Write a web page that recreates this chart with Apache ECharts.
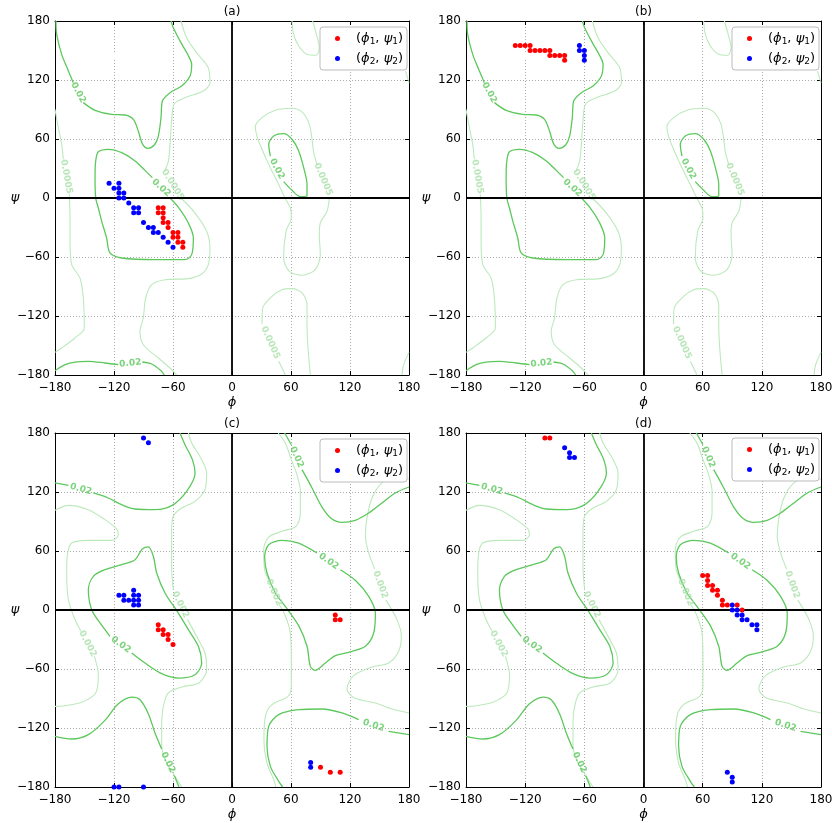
<!DOCTYPE html>
<html><head><meta charset="utf-8">
<script src="https://cdn.jsdelivr.net/npm/echarts@6/dist/echarts.min.js"></script>
<style>html,body{margin:0;padding:0;background:#fff}#c{width:832px;height:823px}</style>
</head><body><div id="c"></div>
<script>
// ---------------- data ----------------
const PANEL_TITLES = ['(a)', '(b)', '(c)', '(d)'];
const AXIS_TICKS = [-180, -120, -60, 0, 60, 120, 180];
const SERIES_NAMES = ['p1', 'p2'];

const A_RED = [[-75,-10],[-70,-10],[-75,-15],[-70,-15],[-70,-20],[-70,-25],[-65,-25],[-65,-30],[-60,-35],[-55,-35],[-60,-40],[-55,-40],[-55,-45],[-50,-45],[-50,-50]];
const A_BLUE = [[-125,15],[-115,15],[-120,10],[-115,10],[-115,5],[-110,5],[-115,0],[-110,0],[-105,-5],[-100,-10],[-95,-10],[-100,-15],[-95,-15],[-90,-25],[-85,-30],[-80,-30],[-80,-35],[-75,-35],[-70,-40],[-65,-45],[-60,-50]];
const B_RED = [[-130,155],[-125,155],[-120,155],[-115,155],[-115,150],[-110,150],[-105,150],[-100,150],[-95,150],[-95,145],[-90,145],[-85,145],[-80,145],[-80,140]];
const B_BLUE = [[-65,155],[-65,150],[-60,150],[-60,145],[-60,140]];
const C_RED = [[-75,-15],[-75,-20],[-70,-20],[-70,-25],[-65,-25],[-65,-30],[-60,-35],[105,-5],[105,-10],[110,-10],[90,-160],[100,-165],[110,-165]];
const C_BLUE = [[-90,175],[-85,170],[-100,20],[-115,15],[-110,15],[-100,15],[-95,15],[-110,10],[-105,10],[-100,10],[-95,10],[-100,5],[-95,5],[80,-155],[80,-160],[-120,-180],[-115,-180],[-90,-180]];
const D_RED = [[-100,175],[-95,175],[60,35],[65,35],[65,30],[65,25],[70,25],[70,20],[75,20],[75,15],[80,10],[80,5],[85,5],[95,5],[100,0]];
const D_BLUE = [[-80,165],[-75,160],[-75,155],[-70,155],[90,5],[90,0],[95,0],[95,-5],[100,-5],[100,-10],[105,-10],[110,-15],[115,-15],[115,-20],[85,-165],[90,-170],[90,-175]];

// contour map used in (a),(b): levels 0.02 (dark) and 0.0005 (light)
const M1_DARK = [
  [[-179,180],[-178.3,166.4],[-173.2,146.1],[-166.4,129.2],[-161.4,117.3]],
  [[-151.2,97],[-139.3,89.2],[-122.4,85.1],[-108.8,84.4],[-100.3,80],[-95.3,68.1],[-91.2,55.3],[-85.8,50.5],[-79,53.9],[-74.9,63],[-72.2,81.7],[-70.8,98.6],[-63,107.1],[-51.2,113.9],[-42.7,124.1],[-41,135.9],[-45.1,146.1],[-51.9,158],[-59.7,173.2],[-62,180]],
  [[-180,-175.6],[-169.8,-169.5],[-159.7,-166.8],[-146.1,-166.1],[-129.2,-167.8],[-115.6,-169.5]],
  [[-91.2,-166.8],[-81.7,-168.8],[-72.2,-175.6],[-68.8,-180]],
  [[-63,0],[-53.9,-10.2],[-44.4,-25.4],[-39.3,-40.7],[-41,-57.6],[-47.8,-62.7],[-78.3,-62.7],[-112.2,-61],[-124.1,-55.9],[-127.5,-40.7],[-132.5,-23.7],[-135.9,-10.2],[-138.6,0],[-139.3,20.7],[-138.6,37.6],[-135.9,47.1],[-125.8,49.5],[-112.2,46.1],[-98.6,37.6],[-88.5,28.1],[-81,20.7]],
  [[39,42.7],[37.3,54.6],[42.4,63],[52.5,65.4],[61,59.7],[67.8,47.8],[72.9,30.8],[76.3,13.9],[76.3,2],[69.5,1.4],[61,7.8],[52.5,16.6]]
];
const M1_LIGHT = [
  [[-51.9,180],[-46.1,163],[-36,147.8],[-24.1,132.5],[-22.4,117.3],[-29.2,108.8],[-46.1,102.7],[-58.6,95.9],[-61.4,78.3],[-63,54.6],[-64.7,37.6],[-68.8,26.8]],
  [[-51.9,0],[-37.6,-15.3],[-25.8,-33.9],[-22.4,-50.8],[-24.1,-67.8],[-30.8,-77.3],[-44.4,-82],[-68.1,-83.1],[-81.7,-88.1],[-87.8,-101.7],[-90.2,-122],[-93.6,-135.6],[-90.2,-149.2],[-74.9,-162.7],[-63,-172.9],[-56.3,-180]],
  [[-180,90.2],[-176.6,71.5],[-173.2,54.6],[-171.5,39.3]],
  [[-165.5,4],[-164.7,-20.3],[-164.7,-44.1],[-163,-67.8],[-154.6,-81.4],[-151.2,-101.7],[-150.2,-132.2],[-159.7,-142.4],[-173.2,-152.5],[-180,-157]],
  [[176.5,129],[180,117]],
  [[180,-157],[174.6,-169.5],[172.9,-180]],
  [[61,180],[62.7,166.4],[67.8,154.6],[76.3,146.1],[85.4,145.1],[88.8,152.9],[85.4,168.1],[82,180]],
  [[54.2,-180],[47.5,-166.1]],
  [[30.5,-128.1],[31.2,-111.9],[40.7,-100],[50.8,-93.2],[61,-92.2],[71.2,-96.6],[76.3,-108.5],[76.3,-128.8],[77.3,-152.5],[79.7,-180]],
  [[86.4,34.2],[83.1,46.1],[81.4,59.7],[78.6,74.9],[71.9,86.8],[61,91.2],[44.1,89.2],[30.5,81.7],[23.7,72.2],[25.4,63],[30.5,49.5],[37.3,34.2],[45.8,17.3],[54,0],[59.3,-10.2],[60.3,-20.3],[54.9,-33.9],[52.5,-61],[58.3,-74.6],[71.2,-78.6],[84.7,-72.9],[89.8,-57.6],[88.8,-37.3],[89.8,-25.4],[96.6,-13.6],[99,0]]
];
const M1_LABEL_TEXT = ['0.02', '0.02', '0.02', '0.02', '0.0005', '0.0005', '0.0005', '0.0005'];
const M1_LABEL_LEVEL = ['dark', 'dark', 'dark', 'dark', 'light', 'light', 'light', 'light'];
const M1_LABEL_AT = [[-156.3,107.2],[-103.4,-168],[-72,10.3],[45.7,29.6],[-60.3,13.4],[-168.5,21.6],[92.7,19],[39,-147]];
const M1_LABEL_ANGLE = [-62, 6, -42, -62, -58, -80, -67, -66];
const M1_MARKS = [[-120,144.5],[74,166.5]];

// contour map used in (c),(d): levels 0.02 (dark) and 0.002 (light)
const M2_DARK = [
  [[-180,129.2],[-166.4,126.8]],
  [[-141,119],[-125.8,113.9],[-112.2,107.1],[-98.6,102.7],[-78.3,102],[-61.4,106.1],[-46.1,120.7],[-37.6,139.3],[-40.3,152.9],[-47.8,168.1],[-52.9,180]],
  [[-102,-43.7],[-88.5,-53.9],[-71.5,-64.7],[-54.6,-69.2],[-37.6,-65.8],[-30.8,-53.9],[-34.2,-36.9],[-44.4,-20],[-54.6,-3.1],[-68.1,17.3],[-76.6,37.6],[-80,54.6],[-85.1,64.1],[-91.2,62],[-98.6,51.2],[-112.2,46.1],[-129.2,41],[-141,34.2],[-146.1,20.7],[-142.7,0.3],[-134.2,-13.2],[-124.1,-26.8]],
  [[-180,-128.5],[-163,-131.2],[-146.1,-126.8],[-129.2,-112.2],[-115.6,-95.3],[-102,-88.5],[-93.6,-91.2],[-85.1,-105.4],[-78.3,-125.1],[-71.5,-141.4]],
  [[-58.6,-168.5],[-53.9,-180]],
  [[53.6,180],[60.3,168.1]],
  [[71.2,142.7],[81.4,124.1],[91.5,104.7],[101.7,92.5],[111.9,89.2],[125.4,91.2],[139,98.6],[152.5,108.8],[166.1,119],[180,125.1]],
  [[51.5,-180],[47.5,-174.2],[39,-159],[35.6,-138.6],[37.3,-118.3],[47.5,-106.4],[67.8,-101.4],[91.5,-100.7],[111.9,-104.7],[128.8,-111.5]],
  [[159.3,-123.4],[180,-126.8]],
  [[110.2,41],[125.4,30.2],[139,13.9],[145.8,-3.1],[144.1,-23.4],[135.6,-36.9],[118.6,-43.1],[105.1,-46.4],[94.9,-53.9],[84.7,-61.4],[79.7,-57.3],[76.3,-36.9],[67.8,-15.9],[54.2,3.7],[44.1,17.3],[35.6,37.6],[33.2,53.9],[37.3,66.4],[50.8,70.8],[67.8,68.1],[86.4,58]]
];
const M2_LIGHT = [
  [[-44.4,180],[-41,169.8],[-30.8,152.9],[-25.8,139.3],[-27.5,122.4],[-37.6,110.5],[-51.2,103.7],[-59.7,95.3],[-61.4,78.3],[-61.4,44.4],[-59.7,20.7]],
  [[-45.1,-9.8],[-36,-26.8],[-27.5,-43.7],[-25.8,-60.7],[-33.6,-74.2],[-51.2,-78.3],[-64.7,-84.4],[-69.8,-98],[-71.5,-118.3],[-71.5,-138.6],[-66.4,-155.6],[-58,-169.2],[-51.2,-180]],
  [[-180,101.4],[-166.4,106.4],[-146.1,102],[-129.2,91.9],[-117.3,82.4],[-115.6,76.6],[-122.4,70.8],[-146.1,70.8],[-163,68.1],[-167.1,58],[-168.1,37.6],[-166.4,10.5],[-160.3,-8.1],[-153.6,-21.7]],
  [[-140,-47.1],[-135.9,-65.8],[-138.6,-84.4],[-152.9,-93.9],[-169.8,-97.3],[-180,-98]],
  [[47,180],[54.2,169.8],[60.3,152.9],[66.1,137.6],[69.5,120.7],[69.5,98.6],[65.1,85.1],[50.8,80],[37.3,74.2],[32.2,61.4],[33.2,41],[38,29.2]],
  [[47.5,6.4],[54.2,-5.8],[59.3,-23.4],[60.3,-50.5],[60.3,-77.6],[56.9,-87.8],[40.7,-96.3],[33.9,-108.1],[32.5,-131.9],[35.6,-155.6],[42.4,-172.5],[44.7,-180]],
  [[180,133.2],[166.1,134.2],[152.5,129.2],[142.4,113.9],[137.3,93.6],[135.6,74.9],[139,58],[145.1,41.7]],
  [[156.5,10],[167.8,-9.8],[172.2,-26.8],[169.5,-42],[159.3,-53.9],[142.4,-58],[123.7,-66.8],[116.9,-80.3],[124.7,-89.5],[145.8,-94.6],[162.7,-100.7],[180,-104.7]]
];
const M2_LABEL_TEXT = ['0.02', '0.02', '0.02', '0.02', '0.02', '0.02', '0.002', '0.002', '0.002', '0.002'];
const M2_LABEL_LEVEL = ['dark', 'dark', 'dark', 'dark', 'dark', 'dark', 'light', 'light', 'light', 'light'];
const M2_LABEL_AT = [[-153.7,122.9],[-113,-35.3],[-65,-155],[65.7,155.4],[144,-117.5],[98.3,49.5],[-52.4,5.5],[-146.8,-34.4],[42.7,17.8],[150.8,25.8]];
const M2_LABEL_ANGLE = [-15, -35, -64, -66, -18, -35, -64, -62, -67, -70];

// ---------------- chart ----------------
const DARK = '#5cc85c';
const LIGHT = '#bce9bc';
const FONT = 'DejaVu Sans';

const PANEL_DATA = [
  { red: A_RED, blue: A_BLUE, map: 1 },
  { red: B_RED, blue: B_BLUE, map: 1 },
  { red: C_RED, blue: C_BLUE, map: 2 },
  { red: D_RED, blue: D_BLUE, map: 2 }
];
const BOXES = [
  { left: 55, top: 21, width: 354, height: 354 },
  { left: 466, top: 21, width: 355, height: 354 },
  { left: 55, top: 433, width: 354, height: 354 },
  { left: 466, top: 433, width: 355, height: 354 }
];
const LEGEND_POS = [[320, 27], [732, 27], [320, 439], [732, 438]];

const fmtTick = v => (v < 0 ? '\u2212' + Math.abs(v) : String(v));

const grids = [], xAxes = [], yAxes = [], series = [], titles = [], legends = [];

BOXES.forEach((b, gi) => {
  grids.push(Object.assign({ outerBoundsMode: 'none', containLabel: false }, b));
  const common = {
    type: 'value', min: AXIS_TICKS[0], max: AXIS_TICKS[AXIS_TICKS.length - 1], interval: 60,
    gridIndex: gi,
    axisLine: { show: true, onZero: false, lineStyle: { color: '#000', width: 1 } },
    axisTick: { show: true, inside: true, length: 4, lineStyle: { color: '#000', width: 1 } },
    splitLine: { show: false }
  };
  xAxes.push(Object.assign({}, common, {
    position: 'bottom',
    axisLabel: { show: true, formatter: fmtTick, color: '#000', fontSize: 12, fontFamily: FONT, margin: 7, showMinLabel: true, showMaxLabel: true },
    splitLine: { show: true, lineStyle: { color: '#aaaaaa', width: 1, type: [1, 2] } },
    name: 'ϕ', nameLocation: 'middle', nameGap: 21, nameMoveOverlap: false,
    nameTextStyle: { color: '#000', fontSize: 13, fontStyle: 'italic', fontFamily: FONT }
  }));
  xAxes.push(Object.assign({}, common, { position: 'top', axisLabel: { show: false } }));
  yAxes.push(Object.assign({}, common, {
    position: 'left',
    axisLabel: { show: true, formatter: fmtTick, color: '#000', fontSize: 12, fontFamily: FONT, margin: 5, showMinLabel: true, showMaxLabel: true },
    splitLine: { show: true, lineStyle: { color: '#aaaaaa', width: 1, type: [1, 2] } },
    name: 'ψ', nameLocation: 'middle', nameGap: 40, nameRotate: 0, nameMoveOverlap: false,
    nameTextStyle: { color: '#000', fontSize: 13, fontStyle: 'italic', fontFamily: FONT, align: 'center', verticalAlign: 'middle' }
  }));
  yAxes.push(Object.assign({}, common, { position: 'right', axisLabel: { show: false } }));

  titles.push({
    text: PANEL_TITLES[gi], left: b.left + b.width / 2, top: b.top - 15, textAlign: 'center', padding: 0,
    textStyle: { fontSize: 12, fontWeight: 'normal', fontFamily: FONT, color: '#000' }
  });

  legends.push({
    orient: 'vertical', left: LEGEND_POS[gi][0], top: LEGEND_POS[gi][1],
    data: SERIES_NAMES, selectedMode: false,
    backgroundColor: '#fff', borderColor: '#bbbbbb', borderWidth: 1, borderRadius: 3,
    padding: [5, 4, 4, 15], itemGap: 6, itemWidth: 27, itemHeight: 5,
    formatter: name => name === 'p1'
      ? '{n|(}{i|ϕ}{s|1}{n|, }{i|ψ}{s|1}{n|)}'
      : '{n|(}{i|ϕ}{s|2}{n|, }{i|ψ}{s|2}{n|)}',
    textStyle: {
      color: '#000', fontFamily: FONT, fontSize: 13,
      rich: {
        n: { fontSize: 13, fontFamily: FONT, color: '#000' },
        i: { fontSize: 13, fontFamily: FONT, fontStyle: 'italic', color: '#000' },
        s: { fontSize: 9, fontFamily: FONT, color: '#000', padding: [6, 0, 0, 0] }
      }
    }
  });

  const pd = PANEL_DATA[gi];
  const dark = pd.map === 1 ? M1_DARK : M2_DARK;
  const light = pd.map === 1 ? M1_LIGHT : M2_LIGHT;
  const lt = pd.map === 1 ? M1_LABEL_TEXT : M2_LABEL_TEXT;
  const ll = pd.map === 1 ? M1_LABEL_LEVEL : M2_LABEL_LEVEL;
  const la = pd.map === 1 ? M1_LABEL_AT : M2_LABEL_AT;
  const lr = pd.map === 1 ? M1_LABEL_ANGLE : M2_LABEL_ANGLE;

  const addLines = (segs, color, width) => segs.forEach(seg => series.push({
    type: 'line', xAxisIndex: 2 * gi, yAxisIndex: 2 * gi, data: seg,
    showSymbol: false, symbol: 'none', smooth: 0.3, silent: true, z: 2,
    lineStyle: { color: color, width: width, opacity: 1 }, emphasis: { disabled: true }, tooltip: { show: false }
  }));
  addLines(light, LIGHT, 1.1);
  addLines(dark, DARK, 1.3);

  series.push({
    type: 'scatter', xAxisIndex: 2 * gi, yAxisIndex: 2 * gi, symbolSize: 0, silent: true, z: 3,
    data: la.map((p, k) => ({
      value: p, name: lt[k],
      label: { show: true, position: 'inside', formatter: lt[k], rotate: lr[k],
        color: ll[k] === 'dark' ? DARK : '#a8e0a8', fontSize: 9, fontWeight: 'bold', fontFamily: FONT }
    }))
  });

  if (pd.map === 1) {
    series.push({
      type: 'scatter', xAxisIndex: 2 * gi, yAxisIndex: 2 * gi, data: M1_MARKS, silent: true, z: 3,
      symbol: 'emptyCircle', symbolSize: 3, itemStyle: { color: '#fff', borderColor: '#c4c4dc', borderWidth: 1, opacity: 1 }
    });
  }

  series.push({
    name: 'p1', type: 'scatter', xAxisIndex: 2 * gi, yAxisIndex: 2 * gi, data: pd.red,
    symbol: 'circle', symbolSize: 5, itemStyle: { color: '#ff0000', opacity: 1 }, z: 6,
    markLine: {
      silent: true, symbol: ['none', 'none'], label: { show: false }, animation: false,
      lineStyle: { color: '#000', width: 1.8, type: 'solid', opacity: 1 },
      emphasis: { disabled: true },
      data: [{ xAxis: 0 }, { yAxis: 0 }]
    }
  });
  series.push({
    name: 'p2', type: 'scatter', xAxisIndex: 2 * gi, yAxisIndex: 2 * gi, data: pd.blue,
    symbol: 'circle', symbolSize: 5, itemStyle: { color: '#0000ff', opacity: 1 }, z: 6
  });
});

const chart = echarts.init(document.getElementById('c'), null, { renderer: 'canvas' });
chart.setOption({
  backgroundColor: '#fff',
  animation: false,
  title: titles,
  legend: legends,
  grid: grids,
  xAxis: xAxes,
  yAxis: yAxes,
  series: series
});
</script>
</body></html>
